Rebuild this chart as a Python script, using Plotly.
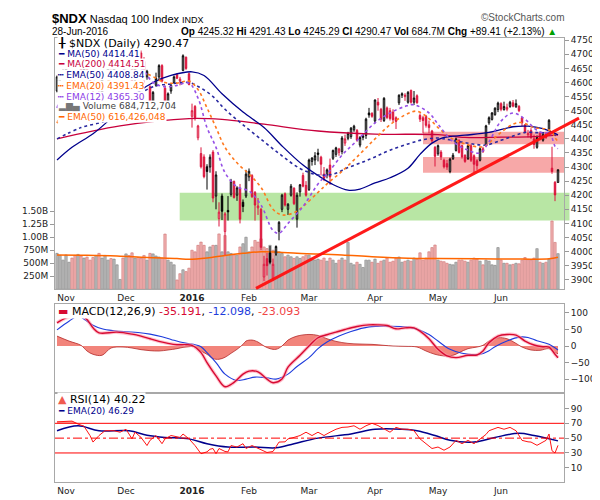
import plotly.graph_objects as go
import pandas as pd

# ---------------- DATA ----------------
holidays = ["2015-11-26", "2015-12-25", "2016-01-01", "2016-01-18",
            "2016-02-15", "2016-03-25", "2016-05-30"]
dates = [d.strftime("%Y-%m-%d") for d in pd.bdate_range("2015-10-28", "2016-06-28")
         if d.strftime("%Y-%m-%d") not in holidays]

opens = [4570, 4615, 4630, 4635, 4675, 4705, 4690, 4675, 4680, 4640,
         4660, 4620, 4565, 4500, 4560, 4555, 4625, 4640, 4660, 4640,
         4660, 4665, 4675, 4665, 4695, 4665, 4610, 4690, 4705, 4675,
         4620, 4585, 4530, 4590, 4620, 4660, 4580, 4515, 4570, 4600,
         4628, 4605, 4643, 4690, 4631, 4480, 4515, 4404, 4348, 4336,
         4301, 4300, 4353, 4197, 4117, 4197, 4071, 4146, 4203, 4249,
         4200, 4225, 4175, 4197, 4265, 4270, 4210, 4155, 4150, 3910,
         3975, 3995, 3905, 3990, 4072, 4150, 4205, 4150, 4200, 4225,
         4115, 4212, 4270, 4235, 4220, 4320, 4325, 4350, 4335, 4275,
         4272, 4307, 4331, 4345, 4352, 4355, 4385, 4402, 4408, 4432,
         4430, 4378, 4405, 4412, 4492, 4490, 4463, 4530, 4505, 4465,
         4510, 4500, 4495, 4475, 4528, 4555, 4550, 4530, 4572, 4530,
         4553, 4483, 4475, 4480, 4450, 4428, 4370, 4347, 4353, 4324,
         4312, 4284, 4330, 4359, 4395, 4376, 4342, 4330, 4376, 4340,
         4322, 4324, 4365, 4376, 4457, 4469, 4486, 4504, 4525, 4504,
         4505, 4515, 4528, 4514, 4515, 4475, 4450, 4415, 4430, 4400,
         4370, 4420, 4395, 4418, 4434, 4296, 4246, 4245.32]
highs = [4625, 4630, 4650, 4685, 4705, 4715, 4705, 4700, 4690, 4655,
         4670, 4635, 4575, 4560, 4575, 4630, 4640, 4670, 4670, 4665,
         4670, 4675, 4685, 4700, 4705, 4675, 4690, 4700, 4717, 4690,
         4645, 4590, 4570, 4635, 4665, 4665, 4590, 4565, 4595, 4625,
         4632, 4620, 4700, 4692, 4635, 4525, 4520, 4450, 4370, 4345,
         4310, 4345, 4360, 4285, 4175, 4206, 4140, 4197, 4258, 4252,
         4232, 4240, 4185, 4290, 4295, 4275, 4215, 4190, 4155, 3985,
         3995, 4020, 3975, 4022, 4108, 4205, 4210, 4172, 4240, 4228,
         4210, 4240, 4280, 4250, 4330, 4335, 4353, 4365, 4340, 4300,
         4295, 4330, 4362, 4372, 4368, 4410, 4415, 4425, 4442, 4450,
         4435, 4410, 4420, 4475, 4510, 4495, 4540, 4545, 4510, 4548,
         4515, 4510, 4505, 4480, 4558, 4565, 4562, 4570, 4575, 4570,
         4558, 4490, 4482, 4485, 4465, 4432, 4375, 4380, 4360, 4330,
         4325, 4333, 4350, 4405, 4398, 4380, 4345, 4380, 4382, 4345,
         4328, 4370, 4372, 4450, 4480, 4495, 4512, 4532, 4530, 4532,
         4525, 4535, 4538, 4540, 4520, 4478, 4452, 4432, 4438, 4415,
         4412, 4425, 4422, 4425, 4470, 4372, 4250, 4291.43]
lows = [4565, 4600, 4620, 4630, 4670, 4680, 4670, 4665, 4625, 4625,
        4630, 4570, 4500, 4490, 4540, 4550, 4615, 4630, 4645, 4620,
        4655, 4655, 4650, 4660, 4655, 4595, 4605, 4660, 4670, 4600,
        4610, 4520, 4480, 4585, 4605, 4600, 4505, 4510, 4560, 4595,
        4612, 4590, 4640, 4645, 4590, 4440, 4465, 4395, 4295, 4260,
        4220, 4280, 4175, 4150, 4089, 4112, 3988, 4110, 4195, 4188,
        4180, 4100, 4140, 4190, 4250, 4190, 4110, 4130, 4005, 3895,
        3915, 3955, 3895, 3985, 4040, 4140, 4160, 4130, 4195, 4165,
        4085, 4195, 4228, 4195, 4215, 4305, 4307, 4320, 4270, 4250,
        4260, 4237, 4325, 4336, 4340, 4345, 4375, 4395, 4400, 4425,
        4390, 4370, 4395, 4400, 4475, 4475, 4455, 4500, 4460, 4460,
        4470, 4465, 4460, 4435, 4520, 4545, 4535, 4525, 4525, 4520,
        4525, 4460, 4420, 4440, 4420, 4385, 4302, 4340, 4325, 4295,
        4290, 4278, 4325, 4355, 4348, 4330, 4315, 4325, 4318, 4282,
        4290, 4320, 4350, 4374, 4450, 4465, 4482, 4495, 4498, 4500,
        4498, 4510, 4512, 4510, 4495, 4445, 4420, 4405, 4400, 4365,
        4365, 4395, 4390, 4400, 4430, 4276, 4179, 4245.29]
closes = [4620, 4625, 4630, 4680, 4700, 4690, 4680, 4695, 4645, 4650,
          4635, 4575, 4505, 4555, 4550, 4625, 4630, 4660, 4655, 4660,
          4665, 4670, 4655, 4695, 4660, 4605, 4685, 4675, 4672, 4615,
          4640, 4527, 4565, 4615, 4660, 4605, 4510, 4560, 4590, 4620,
          4615, 4612, 4695, 4650, 4593, 4500, 4475, 4446, 4301, 4266,
          4284, 4335, 4190, 4272, 4140, 4143, 4134, 4141, 4250, 4192,
          4226, 4115, 4160, 4275, 4285, 4195, 4165, 4162, 4015, 3955,
          3950, 3962, 3955, 4018, 4104, 4200, 4165, 4168, 4232, 4170,
          4200, 4237, 4232, 4200, 4325, 4332, 4340, 4345, 4310, 4260,
          4290, 4265, 4359, 4368, 4364, 4403, 4400, 4420, 4438, 4445,
          4395, 4405, 4410, 4470, 4485, 4480, 4538, 4520, 4470, 4544,
          4476, 4472, 4468, 4462, 4555, 4560, 4555, 4565, 4530, 4545,
          4528, 4470, 4465, 4448, 4440, 4393, 4338, 4376, 4336, 4301,
          4300, 4328, 4342, 4400, 4352, 4336, 4320, 4376, 4324, 4310,
          4305, 4365, 4355, 4446, 4475, 4492, 4509, 4527, 4505, 4515,
          4512, 4530, 4516, 4525, 4500, 4457, 4425, 4418, 4405, 4380,
          4405, 4400, 4415, 4405, 4466, 4284, 4201.06, 4290.47]
volume_m = [690, 650, 560, 660, 520, 600, 650, 670, 640, 600,
            620, 560, 610, 650, 690, 600, 650, 560, 590, 580,
            470, 190, 600, 680, 650, 700, 600, 610, 600, 650,
            560, 690, 680, 640, 620, 600, 1060, 560, 520, 470,
            180, 300, 375, 340, 406, 750, 719, 844, 906, 844,
            719, 813, 844, 844, 1063, 719, 1031, 719, 688, 656,
            656, 813, 875, 1000, 719, 813, 938, 906, 969, 813,
            781, 844, 750, 656, 719, 688, 625, 656, 625, 594,
            625, 594, 625, 656, 656, 594, 563, 580, 560, 600,
            540, 600, 560, 500, 560, 600, 560, 900, 500, 470,
            520, 480, 420, 560, 560, 520, 580, 500, 540, 560,
            600, 520, 540, 600, 620, 520, 540, 560, 540, 600,
            580, 700, 560, 600, 720, 800, 850, 560, 540, 530,
            500, 480, 470, 520, 560, 560, 540, 520, 560, 600,
            580, 540, 470, 560, 540, 470, 460, 800, 560, 500,
            500, 470, 480, 500, 490, 560, 610, 570, 560, 600,
            780, 520, 500, 520, 580, 1310, 900, 684.7]

# overlay lines (bar index, value)
ma50_i = [0, 5, 12, 17, 22, 27, 32, 38, 45, 49, 55, 62, 69, 75, 82, 87, 92, 97, 101, 106,
          111, 117, 121, 125, 129, 136, 144, 152, 157, 162, 167]
ma50_v = [4325, 4370, 4418, 4463, 4515, 4565, 4600, 4625, 4638, 4625, 4560, 4495, 4440, 4375,
          4307, 4270, 4238, 4218, 4222, 4244, 4262, 4296, 4345, 4385, 4405, 4413, 4423, 4443,
          4445, 4436, 4414.41]
ma200_i = [0, 21, 44, 55, 69, 87, 106, 127, 136, 148, 159, 167]
ma200_v = [4400, 4446, 4472, 4469, 4452, 4428, 4417, 4415, 4405, 4406, 4408, 4414.51]
ema50_i = [0, 8, 17, 25, 32, 38, 44, 48, 52, 56, 62, 69, 75, 81, 87, 92, 97, 102, 106, 111,
           117, 122, 127, 133, 138, 143, 148, 152, 156, 160, 164, 167]
ema50_v = [4400, 4440, 4468, 4540, 4585, 4595, 4600, 4580, 4550, 4505, 4450, 4390, 4340, 4295,
           4272, 4275, 4298, 4318, 4336, 4360, 4382, 4397, 4403, 4392, 4383, 4378, 4395, 4410,
           4423, 4422, 4420, 4408.84]
ema20_i = [0, 5, 10, 15, 20, 25, 30, 36, 40, 44, 47, 50, 53, 56, 60, 64, 68, 72, 75, 79,
           82, 87, 90, 95, 100, 106, 111, 117, 120, 124, 127, 131, 136, 142, 145, 148, 152, 155,
           159, 163, 165, 166, 167]
ema20_v = [4456, 4560, 4595, 4600, 4620, 4635, 4630, 4600, 4598, 4605, 4575, 4510, 4440, 4370,
           4315, 4275, 4228, 4150, 4130, 4138, 4160, 4210, 4240, 4285, 4336, 4400, 4450, 4490,
           4498, 4472, 4440, 4405, 4382, 4372, 4395, 4423, 4452, 4458, 4440, 4435, 4425, 4404,
           4391.43]
ema12_i = [0, 5, 10, 14, 18, 23, 28, 32, 36, 40, 44, 47, 50, 53, 56, 60, 64, 68, 72, 74,
           77, 82, 87, 90, 95, 100, 106, 111, 116, 119, 124, 127, 132, 137, 141, 144, 148, 152,
           156, 160, 163, 164, 165, 166, 167]
ema12_v = [4510, 4620, 4630, 4590, 4620, 4650, 4650, 4600, 4585, 4590, 4598, 4545, 4440, 4370,
           4280, 4230, 4215, 4165, 4075, 4065, 4100, 4160, 4240, 4275, 4342, 4394, 4457, 4492,
           4515, 4521, 4492, 4452, 4390, 4360, 4350, 4390, 4463, 4492, 4470, 4430, 4420, 4427,
           4405, 4374, 4365.30]
vema_i = [0, 10, 20, 30, 40, 44, 50, 56, 62, 68, 74, 80, 86, 95, 105, 117, 127, 140, 155, 164, 167]
vema_v = [660, 655, 640, 610, 590, 575, 600, 650, 690, 720, 710, 690, 680, 660, 625, 595, 590,
          585, 580, 585, 616.43]

macd_i = [0, 3, 6, 8, 10, 12, 14, 20, 25, 28, 31, 34, 37, 40, 43, 45, 48, 50, 53, 56,
          59, 62, 64, 67, 70, 72, 75, 77, 81, 84, 87, 90, 93, 96, 100, 104, 107, 110, 113, 116,
          119, 121, 124, 127, 130, 133, 137, 140, 142, 144, 147, 150, 153, 156, 159, 162, 164,
          166, 167]
macd_v = [70, 85, 92, 94, 80, 55, 40, 42, 36, 30, 22, 14, 8, 4, 4, 2, -20, -50, -90, -123,
          -110, -85, -76, -78, -100, -111, -100, -64, -28, 0, 25, 34, 42, 50, 59, 64, 64, 62, 52,
          55, 55, 45, 22, -10, -30, -35, -28, -27, -15, 10, 30, 35, 33, 15, 3, -2, -3, -25,
          -35.191]
sig_i = [0, 4, 7, 10, 12, 15, 19, 23, 27, 31, 35, 38, 41, 44, 46, 48, 50, 53, 56, 60,
         63, 66, 70, 73, 77, 80, 84, 87, 90, 94, 98, 104, 111, 117, 121, 124, 127, 131, 135, 141,
         144, 146, 150, 154, 157, 160, 164, 167]
sig_v = [49, 75, 90, 75, 63, 52, 46, 43, 41, 36, 28, 20, 12, 7, 4, -2, -20, -50, -85, -104,
         -100, -94, -96, -100, -85, -62, -35, -8, 12, 30, 44, 58, 60, 57, 48, 35, 15, -10, -22,
         -25, -14, -2, 15, 27, 26, 16, 5, -12.098]
hist_i = [0, 4, 8, 10, 12, 15, 18, 22, 25, 28, 31, 34, 37, 40, 42, 44, 46, 48, 50, 52,
          54, 56, 58, 60, 62, 63, 65, 67, 69, 71, 73, 75, 77, 80, 84, 87, 90, 93, 97, 101,
          105, 109, 112, 116, 120, 123, 126, 129, 132, 134, 137, 140, 142, 144, 147, 150, 153,
          155, 158, 161, 164, 166, 167]
hist_v = [30, 15, 2, -15, -25, -28, -6, -3, -6, -11, -14, -15, -12, -8, -4, -2, -2, -15, -25,
          -38, -40, -34, -22, -10, 5, 15, 18, 12, 0, -8, -10, 0, 18, 30, 35, 32, 22, 14, 8, 6,
          5, 2, 0, -1, -3, -15, -25, -30, -28, -20, -8, -3, 2, 15, 25, 22, 8, -3, -12, -13, -8,
          -20, -23.093]

rsi_i = [0, 3, 5, 7, 9, 11, 12, 14, 16, 19, 21, 23, 25, 26, 28, 30, 31, 33, 35, 36,
         38, 41, 42, 44, 46, 48, 50, 51, 52, 53, 54, 56, 57, 58, 60, 62, 63, 65, 67, 68,
         70, 72, 74, 76, 77, 79, 81, 83, 85, 87, 89, 91, 93, 95, 97, 99, 101, 103, 105, 107,
         109, 111, 113, 115, 117, 119, 121, 123, 125, 127, 129, 131, 133, 135, 137, 139, 141, 143,
         144, 147, 149, 151, 153, 155, 157, 158, 160, 162, 163, 164, 165, 166, 167]
rsi_v = [72, 73, 73, 69, 66, 53.5, 44.7, 53.5, 60, 60, 58, 62, 49, 58, 51, 40, 47, 53.5, 42.5,
         49, 53.5, 51, 55.6, 49, 40, 29, 31.5, 35, 36, 29, 36, 32, 31.5, 40, 38, 42.5, 36, 40,
         36, 34, 30.6, 32, 44.7, 45, 49, 51, 53.5, 58, 53.5, 58, 53.5, 58, 62, 64.5, 65, 66.7,
         62, 66.7, 70, 67, 62, 58, 64.5, 62, 62, 60, 49, 42.5, 36, 38, 33.7, 38, 47, 42.5, 47,
         42.5, 49, 55, 60, 64.5, 62, 64.5, 60, 47, 45, 44.7, 40.3, 44.7, 47, 55.6, 33, 30,
         40.22]
rsiema_i = [0, 7, 14, 24, 30, 36, 44, 50, 57, 66, 73, 79, 87, 98, 106, 115, 120, 126, 131, 139,
            146, 154, 159, 167]
rsiema_v = [60, 66.7, 60, 60, 54, 51, 49, 42.5, 38, 38, 37, 42.5, 50, 55.6, 62, 62, 60, 53.5,
            47, 44.7, 51, 56.5, 53.5, 46.29]

price_ticks = list(range(3900, 4751, 50))
vol_tickvals = [250e6, 500e6, 750e6, 1.0e9, 1.25e9, 1.5e9]
vol_ticktext = ["250M", "500M", "750M", "1.00B", "1.25B", "1.50B"]

# ---------------- FIGURE ----------------
n = len(dates)
idx = list(range(n))
down = [False] + [closes[i] < closes[i - 1] for i in range(1, n)]
RED = "rgb(220,20,60)"

fig = go.Figure()

# volume (base axis y, left)
fig.add_trace(go.Bar(
    x=idx, y=[v * 1e6 for v in volume_m], width=0.78,
    marker=dict(color=["rgb(240,178,178)" if d else "rgb(188,188,188)" for d in down],
                line=dict(color=["rgb(205,110,110)" if d else "rgb(125,125,125)" for d in down],
                          width=0.6)),
    xaxis="x", yaxis="y", hoverinfo="skip"))
fig.add_trace(go.Scatter(x=vema_i, y=[v * 1e6 for v in vema_v], mode="lines",
                         line=dict(color="rgb(255,102,0)", width=1.5, shape="spline"),
                         xaxis="x", yaxis="y", hoverinfo="skip"))

# candles
for is_red, col in ((False, "black"), (True, RED)):
    sel = [i for i in idx if down[i] == is_red]
    fig.add_trace(go.Candlestick(
        x=sel, open=[opens[i] for i in sel], high=[highs[i] for i in sel],
        low=[lows[i] for i in sel], close=[closes[i] for i in sel],
        increasing=dict(line=dict(color=col, width=1), fillcolor="white"),
        decreasing=dict(line=dict(color=col, width=1), fillcolor=col),
        whiskerwidth=0, xaxis="x", yaxis="y2", hoverinfo="skip", showlegend=False))

def add_line(xs, ys, color, dash, width, ax="y2", xa="x", shape="spline"):
    fig.add_trace(go.Scatter(x=xs, y=ys, mode="lines",
                             line=dict(color=color, width=width, dash=dash, shape=shape),
                             xaxis=xa, yaxis=ax, hoverinfo="skip"))

add_line(ma200_i, ma200_v, "rgb(200,0,60)", "solid", 1.3)
add_line(ma50_i, ma50_v, "rgb(0,0,140)", "solid", 1.3)
add_line(ema50_i, ema50_v, "rgb(40,40,160)", "dot", 1.6)
add_line(ema20_i, ema20_v, "rgb(255,120,30)", "dot", 1.6)
add_line(ema12_i, ema12_v, "rgb(150,80,230)", "dot", 1.6)

# MACD panel
fig.add_trace(go.Scatter(x=hist_i, y=hist_v, mode="lines", fill="tozeroy",
                         fillcolor="rgba(240,110,100,0.85)",
                         line=dict(color="rgb(180,40,40)", width=0.8, shape="spline"),
                         xaxis="x2", yaxis="y3", hoverinfo="skip"))
add_line(sig_i, sig_v, "rgb(30,60,220)", "solid", 1.1, ax="y3", xa="x2")
add_line(macd_i, macd_v, "rgba(255,150,170,0.6)", "solid", 3.5, ax="y3", xa="x2")
add_line(macd_i, macd_v, "rgb(215,10,50)", "solid", 1.4, ax="y3", xa="x2")

# RSI panel
fig.add_trace(go.Scatter(x=rsi_i, y=[70] * len(rsi_i), mode="lines",
                         line=dict(width=0, color="rgba(0,0,0,0)"),
                         xaxis="x3", yaxis="y4", hoverinfo="skip"))
fig.add_trace(go.Scatter(x=rsi_i, y=[max(v, 70) for v in rsi_v], mode="lines",
                         line=dict(width=0, color="rgba(0,0,0,0)"), fill="tonexty",
                         fillcolor="rgba(245,120,110,0.7)",
                         xaxis="x3", yaxis="y4", hoverinfo="skip"))
add_line(rsiema_i, rsiema_v, "rgb(0,0,140)", "solid", 1.5, ax="y4", xa="x3")
add_line(rsi_i, rsi_v, "rgb(255,20,20)", "solid", 1.0, ax="y4", xa="x3", shape="linear")

# ---------------- LAYOUT ----------------
month_i = [i for i in range(1, n) if dates[i][5:7] != dates[i - 1][5:7]]
mnames = {"01": "<b>2016</b>", "02": "Feb", "03": "Mar", "04": "Apr", "05": "May",
          "06": "Jun", "11": "Nov", "12": "Dec"}
month_t = [mnames[dates[i][5:7]] for i in month_i]

FONT = "DejaVu Sans"
BORDER = "#a8a8a8"
tickfont = dict(family=FONT, size=9, color="#222")
xcommon = dict(range=[-0.67, 169], showgrid=False, zeroline=False, showline=True, mirror=True,
               linecolor=BORDER, linewidth=1, ticks="", tickfont=tickfont, fixedrange=True)
ycommon = dict(showgrid=False, zeroline=False, showline=True, mirror=True, linecolor=BORDER,
               linewidth=1, ticks="outside", ticklen=4, tickcolor="#999", tickfont=tickfont,
               fixedrange=True)

H = 454.0
def yp(y):
    return (484 - y) / H
def xp(x):
    return (x - 47) / 509.0

fig.update_layout(
    width=600, height=500, margin=dict(l=47, r=44, t=30, b=16),
    paper_bgcolor="white", plot_bgcolor="white", showlegend=False, boxmode="overlay",
    xaxis=dict(domain=[0, 1], anchor="y", tickvals=month_i, ticktext=month_t,
               rangeslider=dict(visible=False), **xcommon),
    xaxis2=dict(domain=[0, 1], anchor="y3", matches="x", showticklabels=False, **xcommon),
    xaxis3=dict(domain=[0, 1], anchor="y4", matches="x", tickvals=month_i, ticktext=month_t,
                **xcommon),
    yaxis=dict(domain=[yp(287), 1], range=[0, 4.82e9], side="left", tickvals=vol_tickvals,
               ticktext=vol_ticktext, **ycommon),
    yaxis2=dict(overlaying="y", anchor="x", side="right", range=[3866, 4758],
                tickvals=price_ticks, showgrid=False, zeroline=False, showline=False,
                ticks="outside", ticklen=4, tickcolor="#999", tickfont=tickfont,
                fixedrange=True),
    yaxis3=dict(domain=[yp(393), yp(302)], anchor="x2", side="right", range=[-142, 127],
                tickvals=[-100, -50, 0, 50, 100], **ycommon),
    yaxis4=dict(domain=[0, yp(393)], anchor="x3", side="right", range=[-9.2, 110.9],
                tickvals=[10, 30, 50, 70, 90], **ycommon),
)

shapes = [
    # support / resistance zones
    dict(type="rect", xref="paper", yref="y2", x0=xp(171.7), x1=xp(561.5), y0=4110, y1=4209,
         fillcolor="rgb(184,230,164)", line=dict(width=0), layer="below"),
    dict(type="rect", xref="paper", yref="y2", x0=xp(415), x1=1.0, y0=4381, y1=4425,
         fillcolor="rgb(247,168,168)", line=dict(width=0), layer="below"),
    dict(type="rect", xref="paper", yref="y2", x0=xp(415), x1=1.0, y0=4280, y1=4336,
         fillcolor="rgb(247,168,168)", line=dict(width=0), layer="below"),
    # trend line
    dict(type="line", xref="paper", yref="paper", x0=xp(248), y0=yp(286), x1=xp(571), y1=yp(112),
         line=dict(color="rgba(255,15,15,0.95)", width=3), layer="above"),
    # RSI reference lines
    dict(type="line", xref="paper", yref="y4", x0=0, x1=1, y0=70, y1=70,
         line=dict(color="rgb(255,0,0)", width=1)),
    dict(type="line", xref="paper", yref="y4", x0=0, x1=1, y0=30, y1=30,
         line=dict(color="rgb(255,0,0)", width=1)),
    dict(type="line", xref="paper", yref="y4", x0=0, x1=1, y0=50, y1=50,
         line=dict(color="rgb(255,0,0)", width=1, dash="dashdot")),
]
fig.update_layout(shapes=shapes)

ann = []
def note(x, y, text, size, color, family=FONT, xanchor="left", bg="white"):
    ann.append(dict(xref="paper", yref="paper", x=xp(x), y=yp(y), xanchor=xanchor,
                    yanchor="middle", text=text, showarrow=False, bgcolor=bg, borderpad=0,
                    font=dict(family=family, size=size, color=color)))

# price panel legend
note(49, 35, "╂ $NDX (Daily) 4290.47", 11, "#000")
note(49, 46, "━ MA(50) 4414.41", 9, "rgb(0,0,140)")
note(49, 57, "━ MA(200) 4414.51", 9, "rgb(200,0,60)")
note(49, 68, "┅ EMA(50) 4408.84", 9, "rgb(0,0,140)")
note(49, 79, "┅ EMA(20) 4391.43", 9, "rgb(255,102,0)")
note(49, 90, "┅ EMA(12) 4365.30", 9, "rgb(140,60,230)")
note(49, 100.5, '<span style="color:#777">▂▆▄</span> Volume 684,712,704', 9, "#444")
note(49, 111, "━ EMA(50) 616,426,048", 9, "rgb(255,102,0)")

# MACD / RSI legends
note(49, 309.5, '<span style="color:rgb(215,10,50)">▬</span> MACD(12,26,9) '
     '<span style="color:rgb(215,10,50)">-35.191</span>, '
     '<span style="color:rgb(30,60,220)">-12.098</span>, '
     '<span style="color:rgb(240,70,70)">-23.093</span>', 11, "#000")
note(49, 400, '<span style="color:rgb(240,90,80)">▲</span> RSI(14) 40.22', 11, "#000")
note(49, 411, "━ EMA(20) 46.29", 9, "rgb(0,0,140)")

# header
HF = "Liberation Sans"
note(43, 10, '<b style="font-size:13px">$NDX</b> Nasdaq 100 Index '
     '<span style="font-size:9px">INDX</span>', 11, "#000", family=HF, bg=None)
note(43, 23, "28-Jun-2016", 10, "#000", family=HF, bg=None)
note(550, 23, "<b>Op</b> 4245.32 <b>Hi</b> 4291.43 <b>Lo</b> 4245.29 <b>Cl</b> 4290.47 "
     "<b>Vol</b> 684.7M <b>Chg</b> +89.41 (+2.13%) "
     '<span style="color:rgb(0,160,0)">▲</span>', 10, "#000", family=HF, xanchor="right",
     bg=None)
note(558, 9, "©StockCharts.com", 10, "#555", family=HF, xanchor="right", bg=None)

for a in ann:
    if a["bgcolor"] is None:
        a.pop("bgcolor")
fig.update_layout(annotations=ann)

fig.write_html("out.html")
